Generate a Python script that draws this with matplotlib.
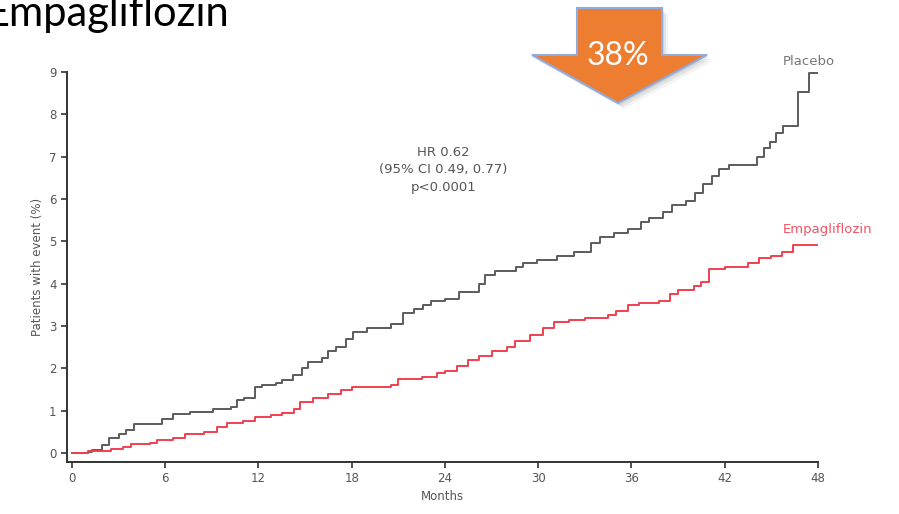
import matplotlib.pyplot as plt
from matplotlib.patches import Polygon
import numpy as np

# cumulative incidence, step curves (months, %)
placebo_t = [0, 1.0, 1.3, 1.9, 2.4, 3.0, 3.5, 4.0, 5.8, 6.5, 7.6, 9.1, 10.2, 10.6, 11.1,
             11.8, 12.2, 13.1, 13.5, 14.2, 14.8, 15.2, 16.1, 16.5, 17.0, 17.6, 18.1,
             19.0, 20.5, 21.3, 22.0, 22.6, 23.1, 24.0, 24.9, 26.2, 26.6, 27.2, 28.6,
             29.0, 29.9, 31.2, 32.3, 33.4, 34.0, 34.9, 35.8, 36.6, 37.1, 38.0, 38.6,
             39.5, 40.1, 40.6, 41.2, 41.6, 42.3, 44.1, 44.5, 44.9, 45.3, 45.75, 46.7,
             47.4, 48.0]
placebo_y = [0, 0.03, 0.08, 0.2, 0.35, 0.45, 0.55, 0.68, 0.8, 0.92, 0.98, 1.05, 1.1, 1.25,
             1.3, 1.55, 1.6, 1.65, 1.72, 1.85, 2.0, 2.15, 2.25, 2.4, 2.5, 2.7, 2.85, 2.95,
             3.05, 3.3, 3.4, 3.5, 3.6, 3.65, 3.8, 4.0, 4.2, 4.3, 4.4, 4.5, 4.55, 4.65,
             4.75, 4.95, 5.1, 5.2, 5.3, 5.45, 5.55, 5.7, 5.85, 5.95, 6.15, 6.35, 6.55,
             6.7, 6.8, 7.0, 7.2, 7.35, 7.55, 7.72, 8.53, 8.97, 8.97]

empa_t = [0, 1.0, 2.5, 3.3, 3.8, 5.0, 5.5, 6.5, 7.3, 8.5, 9.3, 10.0, 11.0, 11.8, 12.8,
          13.5, 14.3, 14.7, 15.5, 16.5, 17.3, 18.0, 20.0, 20.5, 21.0, 22.5, 23.5, 24.0,
          24.8, 25.5, 26.2, 27.0, 28.0, 28.5, 29.5, 30.3, 31.0, 32.0, 33.0, 34.5, 35.0,
          35.8, 36.5, 37.8, 38.5, 39.0, 40.0, 40.5, 41.0, 42.0, 43.5, 44.2, 45.0, 45.7,
          46.4, 48.0]
empa_y = [0, 0.05, 0.1, 0.15, 0.22, 0.25, 0.32, 0.35, 0.45, 0.5, 0.62, 0.72, 0.75, 0.85,
          0.9, 0.95, 1.05, 1.2, 1.3, 1.4, 1.5, 1.55, 1.55, 1.62, 1.75, 1.8, 1.9, 1.95,
          2.05, 2.2, 2.3, 2.4, 2.5, 2.65, 2.8, 2.95, 3.1, 3.15, 3.2, 3.25, 3.35, 3.5,
          3.55, 3.6, 3.75, 3.85, 3.95, 4.05, 4.35, 4.4, 4.5, 4.6, 4.65, 4.75, 4.92, 4.92]

x_ticks = [0, 6, 12, 18, 24, 30, 36, 42, 48]
y_ticks = list(range(10))

W, H = 899, 514
gray = '#5b5b5b'
red = '#f0404f'
txt = '#555555'

plt.rcParams['font.family'] = ['DejaVu Sans']
fig = plt.figure(figsize=(W / 100, H / 100), dpi=100)

ax = fig.add_axes([67 / W, (H - 462) / H, 751 / W, 390 / H])
ax.step(placebo_t, placebo_y, where='post', color=gray, lw=1.4)
ax.step(empa_t, empa_y, where='post', color=red, lw=1.4)

ax.set_xlim(-0.32, 48)
ax.set_ylim(-0.21, 9)
for s in ['top', 'right']:
    ax.spines[s].set_visible(False)
ax.spines['left'].set_bounds(-0.21, 9)
ax.spines['bottom'].set_bounds(-0.32, 48)
for s in ['left', 'bottom']:
    ax.spines[s].set_color('#333333')
    ax.spines[s].set_linewidth(1.4)
ax.set_xticks(x_ticks)
ax.set_yticks(y_ticks)
ax.tick_params(colors='#333333', labelcolor=txt, labelsize=8.5, length=4, width=1.2)
ax.set_xlabel('Months', color=txt, fontsize=8.5, labelpad=3)
ax.set_ylabel('Patients with event (%)', color=txt, fontsize=8.5, labelpad=4)

ax.text(23.9, 6.69, 'HR 0.62\n(95% CI 0.49, 0.77)\np<0.0001', ha='center', va='center',
        color=txt, fontsize=9.5, linespacing=1.45)
ax.text(45.7, 9.24, 'Placebo', color='#777777', fontsize=9.5, va='center', clip_on=False)
ax.text(45.7, 5.27, 'Empagliflozin', color='#f05565', fontsize=9.5, va='center', clip_on=False)

# slide title, running off the left edge
fig.text(-15 / W, 1 - 26 / H, 'Empagliflozin', fontsize=30, family='Lato',
         va='baseline', ha='left', color='black')

# big orange down arrow with "38%"
def px(pts):
    return [(x / W, 1 - y / H) for x, y in pts]

arrow = [(577, 8), (662, 8), (662, 55), (707, 55), (618, 103), (532, 55), (577, 55)]
for k, a in [(6, 0.08), (4, 0.12), (2, 0.15)]:
    shadow = [(x + k, y + k) for x, y in arrow]
    fig.patches.append(Polygon(px(shadow), closed=True, transform=fig.transFigure,
                               facecolor='#777777', alpha=a, edgecolor='none'))
fig.patches.append(Polygon(px(arrow), closed=True, transform=fig.transFigure,
                           facecolor='#ED7D31', edgecolor='#8FAADC', lw=1.5))
fig.text(618 / W, 1 - 56 / H, '38%', fontsize=23, family='Lato', color='white',
         ha='center', va='center')

fig.savefig('out.png', dpi=100)
